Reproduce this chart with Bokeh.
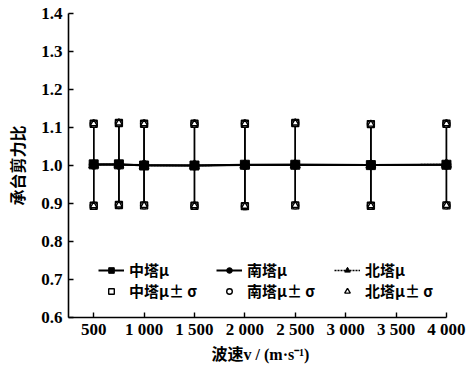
from bokeh.plotting import figure
from bokeh.models import FixedTicker, Legend, LegendItem, Range1d
from bokeh.embed import file_html
from bokeh.resources import INLINE

# ---- data ----
wave_speed = [500, 750, 1000, 1500, 2000, 2500, 3250, 4000]
mid_mu = [1.003, 1.003, 1.000, 1.000, 1.002, 1.002, 1.001, 1.002]
south_mu = [1.002, 1.002, 1.001, 1.000, 1.001, 1.002, 1.001, 1.002]
north_mu = [1.002, 1.003, 1.000, 1.000, 1.001, 1.002, 1.001, 1.003]
mid_up = [1.110, 1.112, 1.110, 1.110, 1.110, 1.112, 1.109, 1.110]
mid_lo = [0.894, 0.896, 0.895, 0.894, 0.893, 0.895, 0.894, 0.895]
south_up = [1.110, 1.112, 1.110, 1.110, 1.110, 1.112, 1.109, 1.110]
south_lo = [0.894, 0.896, 0.895, 0.894, 0.893, 0.895, 0.894, 0.895]
north_up = [1.110, 1.112, 1.110, 1.110, 1.110, 1.112, 1.109, 1.110]
north_lo = [0.894, 0.896, 0.895, 0.894, 0.893, 0.895, 0.894, 0.895]

x_ticks = [500, 1000, 1500, 2000, 2500, 3000, 3500, 4000]
x_tick_labels = ["500", "1 000", "1 500", "2 000", "2 500", "3 000", "3 500", "4 000"]
y_ticks = [0.6, 0.7, 0.8, 0.9, 1.0, 1.1, 1.2, 1.3, 1.4]
y_tick_labels = ["0.6", "0.7", "0.8", "0.9", "1.0", "1.1", "1.2", "1.3", "1.4"]

series_names = ["中塔", "南塔", "北塔"]

SERIF = "Liberation Serif"
CJK = "Noto Sans CJK SC"

p = figure(width=469, height=367, output_backend="svg", toolbar_location=None,
           x_range=Range1d(250, 4060), y_range=Range1d(0.6, 1.4))
p.min_border_left = 68
p.min_border_right = 17
p.min_border_top = 13
p.min_border_bottom = 50
p.outline_line_color = None
p.xgrid.visible = False
p.ygrid.visible = False
p.background_fill_color = "white"
p.border_fill_color = "white"

for ax in (p.xaxis[0], p.yaxis[0]):
    ax.axis_line_width = 1.6
    ax.axis_line_color = "black"
    ax.major_tick_in = 5
    ax.major_tick_out = 0
    ax.major_tick_line_width = 1.4
    ax.minor_tick_line_color = None
    ax.major_label_text_font = SERIF
    ax.major_label_text_font_style = "bold"
    ax.major_label_text_color = "black"
    ax.axis_label_text_font_style = "bold"
    ax.axis_label_text_color = "black"

p.xaxis.ticker = FixedTicker(ticks=x_ticks)
p.xaxis.major_label_overrides = dict(zip(x_ticks, x_tick_labels))
p.xaxis.major_label_text_font_size = "17px"
p.xaxis.major_label_standoff = 2
p.xaxis.bounds = (250, 4000)
p.xaxis.axis_label = "波速v / (m·s⁻¹)"
p.xaxis.axis_label_text_font = SERIF + ", " + CJK
p.xaxis.axis_label_text_font_size = "16px"
p.xaxis.axis_label_standoff = 4

p.yaxis.ticker = FixedTicker(ticks=y_ticks)
p.yaxis.major_label_overrides = dict(zip(y_ticks, y_tick_labels))
p.yaxis.major_label_text_font_size = "17px"
p.yaxis.major_label_standoff = 6
p.yaxis.axis_label = "承台剪力比"
p.yaxis.axis_label_text_font = CJK
p.yaxis.axis_label_text_font_size = "16px"
p.yaxis.axis_label_standoff = 9

# error bars
for lo, up in ((mid_lo, mid_up), (south_lo, south_up), (north_lo, north_up)):
    p.segment(x0=wave_speed, y0=lo, x1=wave_speed, y1=up, line_color="black", line_width=1.3)

# mean lines
l_mid = p.line(wave_speed, mid_mu, line_color="black", line_width=2)
l_south = p.line(wave_speed, south_mu, line_color="black", line_width=2)
l_north = p.line(wave_speed, north_mu, line_color="black", line_width=1.5, line_dash="2 1")
m_mid = p.scatter(wave_speed, mid_mu, marker="square", size=9, color="black")
m_south = p.scatter(wave_speed, south_mu, marker="circle", size=9, color="black")
m_north = p.scatter(wave_speed, north_mu, marker="triangle", size=10, color="black")

# +/- sigma markers
open_kw = dict(fill_color="white", line_color="black", line_width=1.4, size=7)
o_mid = p.scatter(wave_speed + wave_speed, mid_up + mid_lo, marker="square", **open_kw)
o_south = p.scatter(wave_speed + wave_speed, south_up + south_lo, marker="circle", **open_kw)
o_north = p.scatter(wave_speed + wave_speed, north_up + north_lo, marker="triangle", **open_kw)

items = [
    LegendItem(label=series_names[0] + "μ", renderers=[l_mid, m_mid]),
    LegendItem(label=series_names[1] + "μ", renderers=[l_south, m_south]),
    LegendItem(label=series_names[2] + "μ", renderers=[l_north, m_north]),
    LegendItem(label=series_names[0] + "μ± σ", renderers=[o_mid]),
    LegendItem(label=series_names[1] + "μ± σ", renderers=[o_south]),
    LegendItem(label=series_names[2] + "μ± σ", renderers=[o_north]),
]
legend = Legend(items=items, orientation="horizontal", ncols=3, location=(30, 16))
legend.background_fill_alpha = 0
legend.border_line_color = None
legend.label_text_font = CJK
legend.label_text_font_style = "bold"
legend.label_text_font_size = "15px"
legend.label_text_color = "black"
legend.label_width = 87
legend.label_height = 17
legend.glyph_width = 26
legend.glyph_height = 14
legend.label_standoff = 5
legend.spacing = 0
legend.padding = 2
legend.margin = 0
p.add_layout(legend)

open("out.html", "w").write(file_html(p, INLINE))
